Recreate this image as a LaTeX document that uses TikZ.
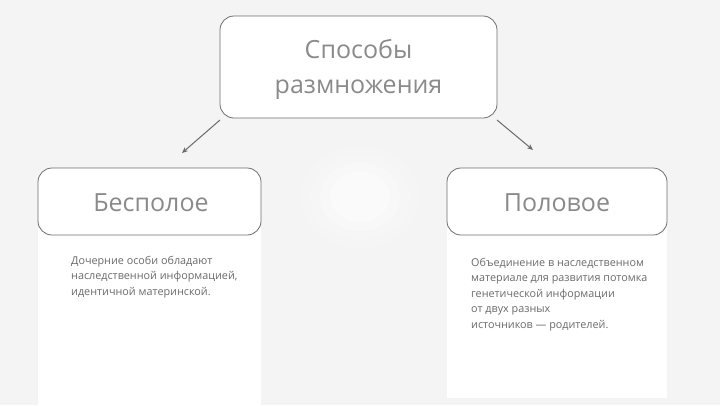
\documentclass[tikz,border=0pt]{standalone}
\usepackage{fontspec}
\setmainfont{Open Sans}
\usetikzlibrary{arrows.meta}
\definecolor{bg}{HTML}{F4F4F4}
\definecolor{boxline}{HTML}{6E6E6E}
\definecolor{headtxt}{HTML}{8A8A8A}
\definecolor{bodytxt}{HTML}{6A6A6A}
\definecolor{arr}{HTML}{6A6A6A}
\tikzset{
  headbox/.style={draw=boxline, line width=0.8pt, fill=white, rounded corners=14pt, inner sep=0pt},
  headlabel/.style={text=headtxt, font=\fontsize{25}{35}\selectfont, align=center},
  panel/.style={fill=white, draw=none},
  bodylabel/.style={text=bodytxt, font=\fontsize{10.8}{15.5}\selectfont, align=left, anchor=north west, inner sep=0pt},
  conn/.style={draw=arr, line width=1pt, -{Stealth[length=6pt,width=5pt]}}
}
\begin{document}
\begin{tikzpicture}[x=1pt,y=-1pt]
\useasboundingbox (0,0) rectangle (720,405);
\fill[bg] (0,0) rectangle (720,405);
% faint glow
\foreach \r/\o in {60/0.12,50/0.18,40/0.25,30/0.3}{
  \fill[white, opacity=\o] (360,197) ellipse ({\r} and {\r*0.85});
}
% panels
\fill[panel] (38,228) rectangle (261,405);
\fill[panel] (447,228) rectangle (667,398);
% boxes
\node[headbox, minimum width=277pt, minimum height=102pt] (top) at (358.5,67) {};
\node[headlabel] (toptxt) at (358.5,69) {Способы\\размножения};
\node[headbox, minimum width=223pt, minimum height=67pt] (left) at (149.5,201.5) {};
\node[headlabel] (lefttxt) at (151,203) {Бесполое};
\node[headbox, minimum width=220pt, minimum height=67pt] (right) at (557,201.5) {};
\node[headlabel] (righttxt) at (557,203) {Половое};
% body text
\node[bodylabel] (lbody) at (71,256) {Дочерние особи обладают\\наследственной информацией,\\идентичной материнской.};
\node[bodylabel] (rbody) at (471,258) {Объединение в наследственном\\материале для развития потомка\\генетической информации\\от двух разных\\источников — родителей.};
% connectors
\coordinate (la) at (220,120);
\coordinate (lb) at (182,153);
\coordinate (ra) at (497,120);
\coordinate (rb) at (533,150);
\draw[conn] (la) -- (lb);
\draw[conn] (ra) -- (rb);
\end{tikzpicture}
\end{document}
